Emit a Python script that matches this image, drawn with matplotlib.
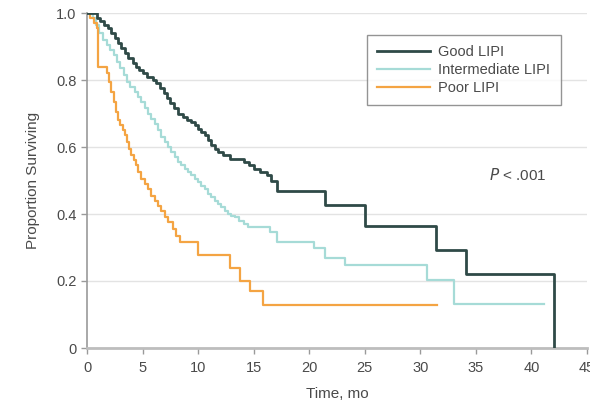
import matplotlib
matplotlib.use("Agg")
import matplotlib.pyplot as plt

plt.rcParams['font.family'] = ['Liberation Sans Narrow', 'Liberation Sans', 'DejaVu Sans']

# Kaplan-Meier step data (time in months, proportion surviving)
good_t = [0, 0.9, 1.2, 1.5, 1.9, 2.2, 2.5, 2.8, 3.1, 3.4, 3.7, 4.1, 4.4, 4.7, 5.0,
          5.4, 5.9, 6.2, 6.6, 6.9, 7.2, 7.5, 7.8, 8.2, 8.6, 9.0, 9.4, 9.7, 10.0,
          10.3, 10.6, 10.9, 11.2, 11.5, 11.8, 12.2, 12.9, 14.1, 14.6, 15.0, 15.6,
          16.2, 16.6, 17.1, 21.4, 25.0, 31.4, 34.1, 42.0]
good_s = [1.0, 0.985, 0.975, 0.965, 0.955, 0.94, 0.925, 0.91, 0.895, 0.88, 0.865,
          0.85, 0.84, 0.83, 0.82, 0.81, 0.80, 0.79, 0.775, 0.76, 0.745, 0.73, 0.715,
          0.70, 0.69, 0.68, 0.675, 0.665, 0.655, 0.645, 0.635, 0.62, 0.605, 0.595,
          0.585, 0.575, 0.565, 0.555, 0.545, 0.535, 0.525, 0.515, 0.50, 0.47, 0.427,
          0.364, 0.293, 0.22, 0.0]

inter_t = [0, 0.5, 0.8, 1.1, 1.4, 1.8, 2.1, 2.4, 2.7, 3.0, 3.3, 3.6, 3.9, 4.3, 4.6,
           4.9, 5.2, 5.5, 5.8, 6.1, 6.4, 6.7, 7.0, 7.3, 7.6, 7.9, 8.2, 8.5, 8.8, 9.1,
           9.4, 9.7, 10.0, 10.3, 10.6, 10.9, 11.2, 11.5, 11.8, 12.1, 12.4, 12.7,
           13.0, 13.3, 13.7, 14.1, 14.5, 16.5, 17.1, 20.4, 21.4, 23.2, 30.6, 33.0,
           41.1]
inter_s = [1.0, 0.985, 0.965, 0.94, 0.92, 0.905, 0.89, 0.875, 0.855, 0.835, 0.815,
           0.795, 0.78, 0.765, 0.75, 0.735, 0.715, 0.70, 0.685, 0.67, 0.65, 0.63,
           0.615, 0.60, 0.585, 0.57, 0.555, 0.545, 0.535, 0.525, 0.515, 0.505, 0.495,
           0.485, 0.475, 0.46, 0.45, 0.44, 0.43, 0.42, 0.41, 0.40, 0.395, 0.39, 0.38,
           0.37, 0.362, 0.345, 0.316, 0.30, 0.27, 0.248, 0.203, 0.13, 0.13]

poor_t = [0, 0.3, 0.6, 0.9, 1.0, 1.8, 2.0, 2.2, 2.4, 2.6, 2.8, 3.0, 3.2, 3.4, 3.6,
          3.8, 4.0, 4.2, 4.4, 4.6, 4.9, 5.2, 5.5, 5.8, 6.1, 6.4, 6.7, 7.0, 7.3, 7.7,
          8.0, 8.4, 10.0, 12.9, 13.8, 14.7, 15.8, 31.5]
poor_s = [1.0, 0.985, 0.97, 0.955, 0.84, 0.82, 0.795, 0.765, 0.735, 0.705, 0.68,
          0.665, 0.65, 0.635, 0.615, 0.595, 0.575, 0.56, 0.545, 0.525, 0.505, 0.49,
          0.475, 0.455, 0.44, 0.425, 0.41, 0.39, 0.375, 0.355, 0.335, 0.316, 0.278,
          0.24, 0.20, 0.17, 0.128, 0.128]

labels = ["Good LIPI", "Intermediate LIPI", "Poor LIPI"]
colors = ["#2f4a47", "#a6dbd7", "#f4a443"]
x_ticks = [0, 5, 10, 15, 20, 25, 30, 35, 40, 45]
y_ticks = [0, 0.2, 0.4, 0.6, 0.8, 1.0]
y_ticklabels = ["0", "0.2", "0.4", "0.6", "0.8", "1.0"]

fig = plt.figure(figsize=(5.9, 4.03), dpi=100)
ax = fig.add_axes([87 / 590, 1 - 348 / 403, 500 / 590, 335 / 403])

text_color = "#4a4a4a"
for t, s, c, lab, lw, z in zip([good_t, inter_t, poor_t], [good_s, inter_s, poor_s],
                               colors, labels, [2.0, 1.6, 1.6], [4, 3, 3]):
    ax.step(t, s, where="post", color=c, lw=lw, label=lab, zorder=z)

ax.set_xlim(0, 45)
ax.set_ylim(0, 1.0)
ax.set_xticks(x_ticks)
ax.set_yticks(y_ticks)
ax.set_yticklabels(y_ticklabels)
ax.yaxis.grid(True, color="#e3e3e3", lw=1.0)
ax.set_axisbelow(True)

for side in ("top", "right"):
    ax.spines[side].set_visible(False)
ax.spines["left"].set_color("#9a9a9a")
ax.spines["bottom"].set_color("#bdbdbd")
ax.spines["bottom"].set_linewidth(2.0)
ax.spines["left"].set_linewidth(1.2)
ax.tick_params(axis="both", colors="#9a9a9a", labelcolor=text_color, labelsize=10.5,
               length=4, width=1.0)
ax.tick_params(axis="x", pad=5)

ax.set_xlabel("Time, mo", fontsize=11, color=text_color, labelpad=9)
ax.set_ylabel("Proportion Surviving", fontsize=11, color=text_color, labelpad=12)

leg = ax.legend(loc="upper right", bbox_to_anchor=(568 / 590, 1 - 28 / 403),
                bbox_transform=fig.transFigure, frameon=True, fancybox=False,
                fontsize=10.5, handlelength=3.6, borderpad=0.7, labelspacing=0.25,
                handletextpad=0.6)
leg.get_frame().set_edgecolor("#7a7a7a")
leg.get_frame().set_linewidth(1.0)
for txt in leg.get_texts():
    txt.set_color(text_color)

ax.text(38.8, 0.515, r"$\it{P}$ < .001", fontsize=11, color=text_color, ha="center",
        va="center")

fig.savefig("out.png", dpi=100)
